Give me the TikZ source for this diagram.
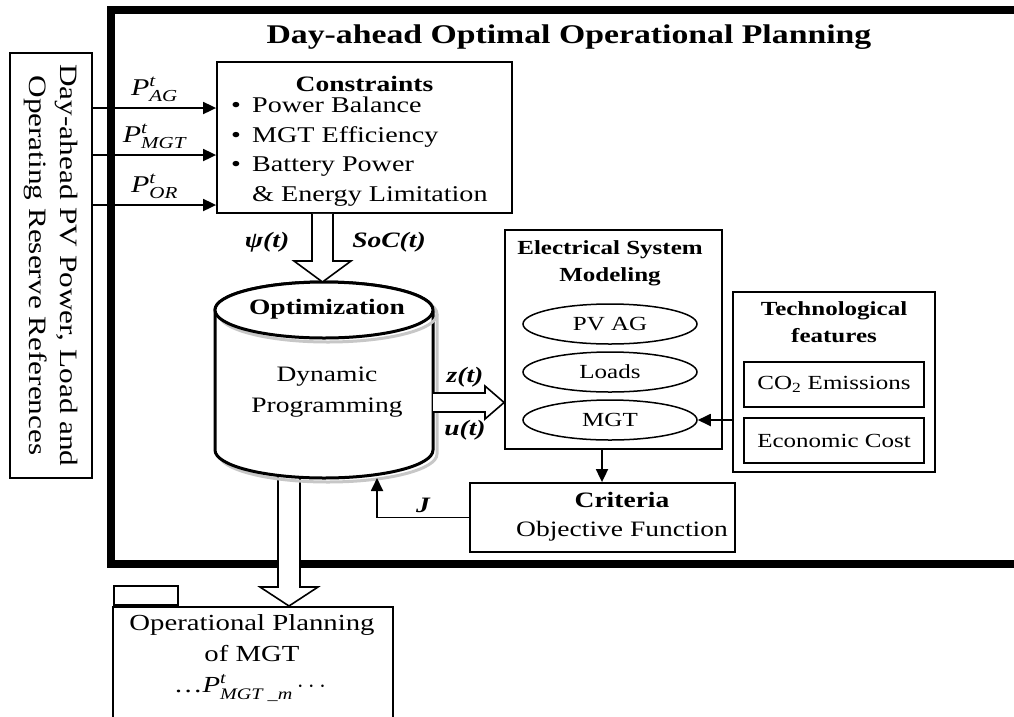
\documentclass[tikz,border=0pt]{standalone}
\usepackage{amsmath}
\usepackage{fontspec}
\setmainfont{Liberation Serif}[FakeStretch=1.25]
\usetikzlibrary{positioning,arrows.meta,shapes.geometric}

\begin{document}
\begin{tikzpicture}[x=1pt,y=-1pt,>={Triangle[length=13pt,width=12pt]},
  font=\fontsize{22}{29}\selectfont]
  \tikzstyle{box}=[draw,line width=1.8pt,inner sep=0pt]
  \tikzstyle{oval}=[draw,ellipse,line width=1.5pt,inner sep=0pt,
    minimum width=174pt,minimum height=40pt,font=\fontsize{20}{24}\selectfont]
  \tikzstyle{wire}=[->,line width=1.8pt]
  \tikzstyle{fat}=[draw,fill=white,line width=1.6pt,line join=miter]
  \tikzstyle{lbl}=[font=\fontsize{22}{26}\selectfont\bfseries\itshape]
  \tikzstyle{hdr}=[font=\fontsize{22}{27}\selectfont\bfseries,align=center]
  \tikzstyle{hdrsmall}=[font=\fontsize{20}{27}\selectfont\bfseries,align=center]
  \tikzstyle{smalltxt}=[font=\fontsize{20}{27}\selectfont]
  \useasboundingbox (0,0) rectangle (1014,716);

  % outer frame
  \draw[line width=8pt] (1014,10) -- (111,10) -- (111,564) -- (1014,564);
  \node[font=\fontsize{27}{32}\selectfont\bfseries,anchor=base west] (title) at (263,43)
    {Day-ahead Optimal Operational Planning};

  % references and constraints
  \node[box,rotate=-90,minimum width=425pt,minimum height=82pt,align=center,
    font=\fontsize{25}{31}\selectfont] (refs) at (51,265.5)
    {Day-ahead PV Power, Load and\\Operating Reserve References};
  \node[box,minimum width=295pt,minimum height=151pt] (cons) at (364.5,137.5) {};
  \node[hdr] (consT) at (364.5,84) {Constraints};
  \node[anchor=north west,align=left,inner sep=0pt,font=\fontsize{22.5}{29.5}\selectfont]
    (consL) at (231,97)
    {\makebox[21pt][l]{\textbullet}Power Balance\\\makebox[21pt][l]{\textbullet}MGT Efficiency\\
     \makebox[21pt][l]{\textbullet}Battery Power\\\hspace*{21pt}\& Energy Limitation};
  \coordinate (inAG) at (0,108);
  \coordinate (inMGT) at (0,155);
  \coordinate (inOR) at (0,205);
  \draw[wire] (refs.north |- inAG) -- (cons.west |- inAG)
    node[midway,above=2pt,font=\fontsize{24}{28}\selectfont] {$\textit{P}^{\textit{t}}_{\textit{AG}}$};
  \draw[wire] (refs.north |- inMGT) -- (cons.west |- inMGT)
    node[midway,above=2pt,font=\fontsize{24}{28}\selectfont] {$\textit{P}^{\textit{t}}_{\textit{MGT}}$};
  \draw[wire] (refs.north |- inOR) -- (cons.west |- inOR)
    node[midway,above=2pt,font=\fontsize{24}{28}\selectfont] {$\textit{P}^{\textit{t}}_{\textit{OR}}$};

  % output folder
  \draw[fat] (278,470) -- (278,587) -- (260,587) -- (289,606) -- (318,587)
    -- (300,587) -- (300,470);
  \node[box,minimum width=64pt,minimum height=19pt,anchor=south west] (tab) at (113,606) {};
  \node[box,minimum width=280pt,minimum height=130pt,anchor=north west] (plan) at (112,606) {};
  \node[align=center,font=\fontsize{23}{31}\selectfont] (planT) at (252,658)
    {Operational Planning\\of MGT\\\ldots$\textit{P}^{\textit{t}}_{\textit{MGT \_m}}\cdots$};

  % optimization cylinder
  \begin{scope}[shift={(4,4)}]
    \draw[line width=3pt,black!22] (215,310) -- (215,450)
      arc[start angle=180,end angle=0,x radius=109,y radius=28] -- (433,310);
  \end{scope}
  \draw[line width=3pt,fill=white] (215,310) -- (215,450)
    arc[start angle=180,end angle=0,x radius=109,y radius=28] -- (433,310)
    arc[start angle=0,end angle=-180,x radius=109,y radius=28];
  \draw[line width=3pt,black!22] (328,314) ellipse[x radius=109,y radius=28];
  \draw[line width=3pt,fill=white] (324,310) ellipse[x radius=109,y radius=28];
  \node[hdr] (optT) at (327,309) {Optimization};
  \node[align=center,font=\fontsize{22}{31}\selectfont] (dp) at (327,392) {Dynamic\\Programming};
  \coordinate (jin) at (377,478);

  \draw[fat] (312,0 |- cons.south) -- (312,261) -- (294,261) -- (322.5,282)
    -- (351,261) -- (333,261) -- (333,0 |- cons.south);
  \node[lbl] (psi) at (267,242) {ψ(t)};
  \node[lbl] (soc) at (389,242) {SoC(t)};

  % electrical system modeling
  \node[box,minimum width=217pt,minimum height=219pt] (esm) at (613.5,339.5) {};
  \node[hdrsmall] (esmT) at (610,263) {Electrical System\\Modeling};
  \node[oval] (pv) at (610,324) {PV AG};
  \node[oval] (loads) at (610,372) {Loads};
  \node[oval] (mgt) at (610,420) {MGT};
  \draw[fat] (433,393) -- (485,393) -- (485,386) -- (esm.west |- 0,402.5)
    -- (485,419) -- (485,412) -- (433,412);
  \node[lbl] (zt) at (465,377) {z(t)};
  \node[lbl] (ut) at (465,430) {u(t)};

  % technological features
  \node[box,minimum width=202pt,minimum height=180pt] (tech) at (834,382) {};
  \node[hdrsmall] (techT) at (834,322) {Technological\\features};
  \node[box,line width=1.5pt,minimum width=180pt,minimum height=45pt,smalltxt] (co2)
    at (834,384.5) {CO\textsubscript{2} Emissions};
  \node[box,line width=1.5pt,minimum width=180pt,minimum height=45pt,smalltxt] (cost)
    at (834,440.5) {Economic Cost};
  \draw[wire] (tech.west |- mgt.east) -- (mgt.east);

  % criteria
  \node[box,minimum width=265pt,minimum height=69pt] (crit) at (602.5,517.5) {};
  \node[align=center] (critT) at (622,517) {\textbf{Criteria}\\Objective Function};
  \draw[wire] (602,0 |- esm.south) -- (602,0 |- crit.north);
  \draw[wire] (crit.west) -| (jin) node[pos=0.25,above=1pt,lbl] {J};
\end{tikzpicture}
\end{document}
